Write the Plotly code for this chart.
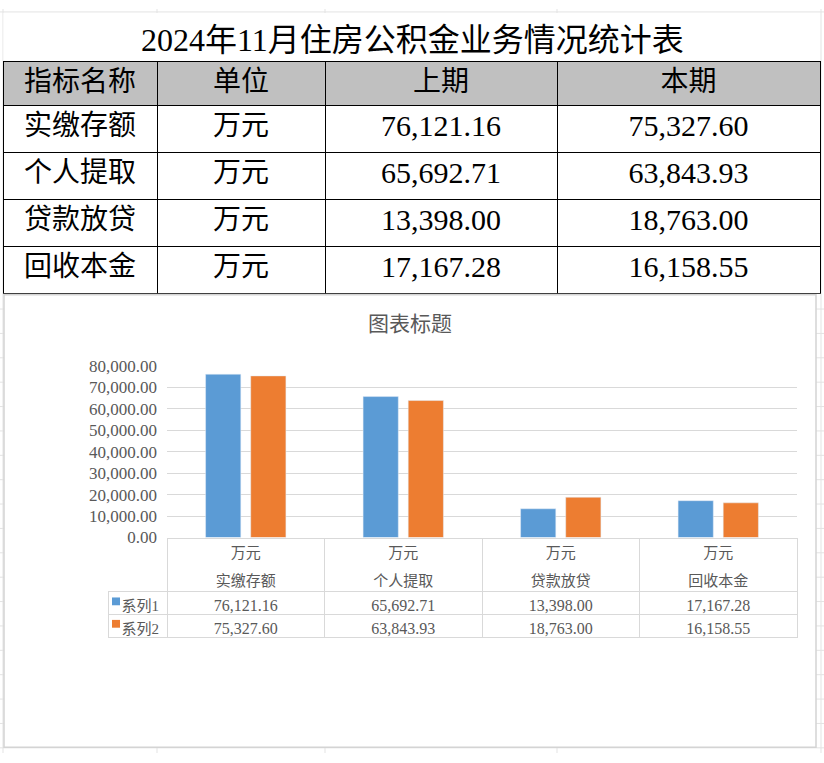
import plotly.graph_objects as go

W, H = 824, 763

# ---------------- data ----------------
title_text = "2024年11月住房公积金业务情况统计表"
header_labels = ["指标名称", "单位", "上期", "本期"]
categories = ["实缴存额", "个人提取", "贷款放贷", "回收本金"]
units = ["万元", "万元", "万元", "万元"]
prev_period = [76121.16, 65692.71, 13398.00, 17167.28]
curr_period = [75327.60, 63843.93, 18763.00, 16158.55]
series_names = ["系列1", "系列2"]
chart_title = "图表标题"
series_colors = ["#5b9bd5", "#ed7d31"]


def px(x):
    return x / W


def py(y):
    return 1 - y / H


def fmt(v):
    return f"{v:,.2f}"


SERIF = "Liberation Serif, Noto Sans CJK SC, serif"
GRAY_TXT = "#595959"
GRID = "#d9d9d9"

fig = go.Figure()

# ---------------- top statistics table ----------------
fig.add_trace(go.Table(
    domain=dict(x=[px(3), px(820)], y=[py(292), py(54)]),
    columnwidth=[154, 168, 232, 263],
    header=dict(
        values=header_labels,
        fill_color="#c0c0c0",
        line=dict(color="black", width=1),
        font=dict(family=SERIF, size=28, color="black"),
        align="center",
        height=44,
    ),
    cells=dict(
        values=[categories, units,
                [fmt(v) for v in prev_period],
                [fmt(v) for v in curr_period]],
        fill_color="white",
        line=dict(color="black", width=1),
        font=dict(family=SERIF, size=[28, 28, 30, 30], color="black"),
        align="center",
        height=47,
    ),
))

# ---------------- bars ----------------
for name, vals, col in zip(series_names, [prev_period, curr_period], series_colors):
    fig.add_trace(go.Bar(
        x=categories, y=vals, name=name, marker_color=col,
        showlegend=False, hoverinfo="skip",
    ))

# ---------------- data table under the chart ----------------
header_vals = [""] + units
cell_vals = [series_names] + [[fmt(p), fmt(c)] for p, c in zip(prev_period, curr_period)]

fig.add_trace(go.Table(
    domain=dict(x=[px(108), px(797)], y=[py(700), py(543)]),
    columnwidth=[59, 157.5, 157.5, 157.5, 157.5],
    header=dict(
        values=header_vals,
        fill_color="rgba(0,0,0,0)",
        line=dict(color=["rgba(0,0,0,0)", GRID, GRID, GRID, GRID], width=1),
        font=dict(family=SERIF, size=15, color=GRAY_TXT),
        align="center",
        height=53,
    ),
    cells=dict(
        values=cell_vals,
        fill_color="white",
        line=dict(color=GRID, width=1),
        font=dict(family=SERIF, size=[15, 16, 16, 16, 16], color=GRAY_TXT),
        align=["right", "center", "center", "center", "center"],
        height=23,
    ),
))

# ---------------- decorative sheet grid, chart frame, legend keys ----------------
shapes = []
SHEET = "#e3e3e3"
for x in [3, 157, 325, 557, 821]:
    shapes.append(dict(type="line", xref="paper", yref="paper",
                       x0=px(x), x1=px(x), y0=0, y1=1,
                       line=dict(color=SHEET, width=1), layer="below"))
for y in [3] + [307.7 + 25 * k for k in range(19)]:
    shapes.append(dict(type="line", xref="paper", yref="paper",
                       x0=0, x1=1, y0=py(y), y1=py(y),
                       line=dict(color=SHEET, width=1), layer="below"))
shapes.append(dict(type="rect", xref="paper", yref="paper",
                   x0=px(3.5), x1=px(820), y0=py(54), y1=py(4),
                   fillcolor="white", line=dict(width=0), layer="below"))
shapes.append(dict(type="rect", xref="paper", yref="paper",
                   x0=px(4), x1=px(816), y0=py(757), y1=py(293),
                   fillcolor="white", line=dict(color="#d4d4d4", width=1.5),
                   layer="below"))
for i, col in enumerate(series_colors):
    yc = 607.5 + 23 * i
    shapes.append(dict(type="rect", xref="paper", yref="paper",
                       x0=px(112), x1=px(120), y0=py(yc + 4), y1=py(yc - 4),
                       fillcolor=col, line=dict(width=0), layer="above"))

fig.update_layout(
    width=W, height=H,
    margin=dict(l=0, r=0, t=0, b=0),
    paper_bgcolor="white",
    plot_bgcolor="rgba(0,0,0,0)",
    barmode="group",
    bargap=0.427,
    bargroupgap=0.22,
    showlegend=False,
    shapes=shapes,
    xaxis=dict(domain=[px(167), px(797)], showticklabels=True, showgrid=False,
               zeroline=False, showline=False, ticks="", ticklabelstandoff=32,
               tickfont=dict(family=SERIF, size=15, color=GRAY_TXT),
               fixedrange=True),
    yaxis=dict(domain=[py(542), py(366)], range=[0, 80000], dtick=10000,
               tickformat=",.2f", gridcolor=GRID, gridwidth=1, zeroline=False,
               showline=False, ticks="", ticklabelstandoff=9,
               tickfont=dict(family=SERIF, size=17, color=GRAY_TXT),
               fixedrange=True),
    annotations=[
        dict(text=title_text, xref="paper", yref="paper", x=px(412), y=py(32),
             xanchor="center", yanchor="middle", showarrow=False,
             font=dict(family=SERIF, size=32, color="black")),
        dict(text=chart_title, xref="paper", yref="paper", x=px(410), y=py(321),
             xanchor="center", yanchor="middle", showarrow=False,
             font=dict(family="Noto Sans CJK SC", size=21, color=GRAY_TXT)),
    ],
)

fig.write_html("out.html")
